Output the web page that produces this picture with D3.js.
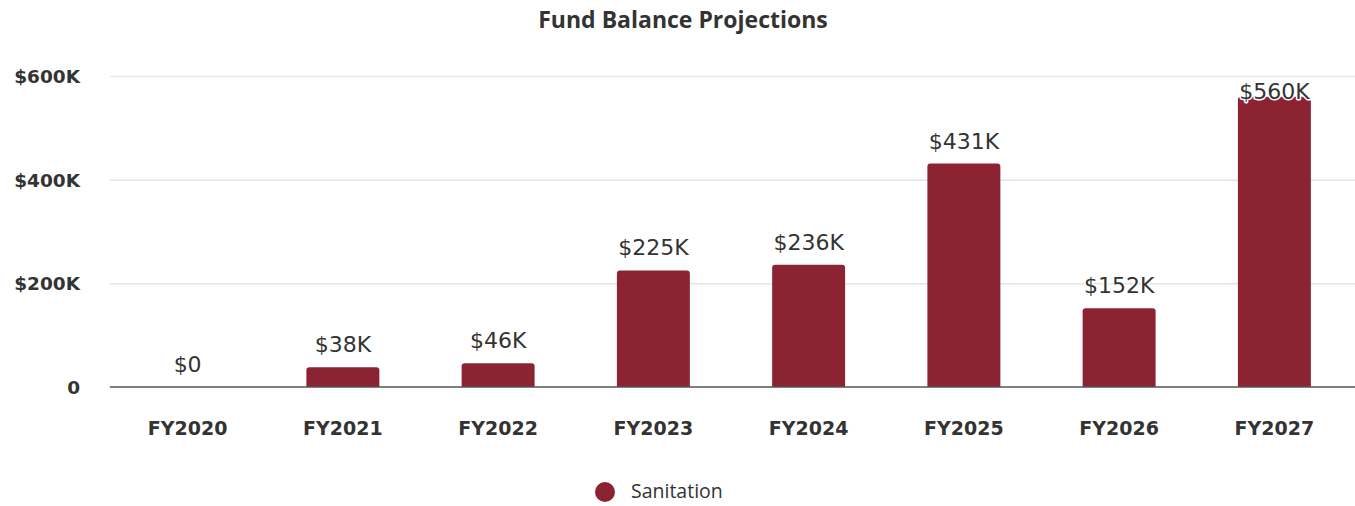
<!DOCTYPE html>
<html>
<head>
<meta charset="utf-8">
<script src="https://cdn.jsdelivr.net/npm/d3@7"></script>
<style>
  body { margin: 0; background: #fff; }
  svg { display: block; }
</style>
</head>
<body>
<svg id="chart" width="1355" height="506"></svg>
<script>
// Fund balance by fiscal year (thousands of dollars)
const categories = ["FY2020", "FY2021", "FY2022", "FY2023", "FY2024", "FY2025", "FY2026", "FY2027"];
const sanitation = [0, 38, 46, 225, 236, 431, 152, 560];
const yTicks = [0, 200, 400, 600];
const seriesName = "Sanitation";
const chartTitle = "Fund Balance Projections";

const W = 1355, H = 506;
const margin = { left: 110, right: 3, top: 76, bottom: 119 };
const svg = d3.select("#chart");
const color = "#8b2332";
const textColor = "#333333";
const axisFont = "'DejaVu Sans', sans-serif";
const titleFont = "'Open Sans', 'Noto Sans', sans-serif";

const x = d3.scaleBand()
  .domain(categories)
  .range([margin.left, W - margin.right])
  .paddingInner(0.53)
  .paddingOuter(0.265);

const y = d3.scaleLinear()
  .domain([0, 600])
  .range([H - margin.bottom, margin.top]);

const fmt = v => v === 0 ? "$0" : "$" + v + "K";

// Title
svg.append("text")
  .attr("x", 683).attr("y", 28)
  .attr("text-anchor", "middle")
  .attr("font-family", titleFont)
  .attr("font-weight", 700)
  .attr("font-size", 23)
  .attr("fill", textColor)
  .text(chartTitle);

// Gridlines and y labels
const yAxis = d3.axisLeft(y)
  .tickValues(yTicks)
  .tickSize(-(W - margin.left))
  .tickPadding(30)
  .tickFormat(v => v === 0 ? "0" : "$" + v + "K");

const gy = svg.append("g")
  .attr("transform", `translate(${margin.left},0)`)
  .call(yAxis);
gy.select(".domain").remove();
gy.selectAll(".tick line")
  .attr("stroke", d => d === 0 ? "none" : "#e6e6e6")
  .attr("stroke-width", 1.5);
gy.selectAll(".tick text")
  .attr("font-family", axisFont)
  .attr("font-weight", 700)
  .attr("font-size", 18.5)
  .attr("fill", textColor)
  .attr("dy", "0.35em");

// Bars with rounded top corners
const r = 3;
function barPath(d, i) {
  const x0 = x(categories[i]);
  const w = x.bandwidth();
  const y0 = y(0);
  const y1 = y(d);
  const h = y0 - y1;
  const rr = Math.min(r, h);
  return `M${x0},${y0} V${y1 + rr} Q${x0},${y1} ${x0 + rr},${y1} H${x0 + w - rr} Q${x0 + w},${y1} ${x0 + w},${y1 + rr} V${y0} Z`;
}
svg.append("g")
  .selectAll("path")
  .data(sanitation)
  .join("path")
  .attr("d", (d, i) => barPath(d, i))
  .attr("fill", color);

// X axis baseline and category labels
const xAxis = d3.axisBottom(x).tickSize(0).tickPadding(35);
const gx = svg.append("g")
  .attr("transform", `translate(0,${y(0)})`)
  .call(xAxis);
gx.select(".domain")
  .attr("d", `M${margin.left},0H${W}`)
  .attr("stroke", "#555")
  .attr("stroke-width", 1.5);
gx.selectAll(".tick text")
  .attr("font-family", axisFont)
  .attr("font-weight", 700)
  .attr("font-size", 19)
  .attr("fill", textColor);

// Value labels
svg.append("g")
  .selectAll("text")
  .data(sanitation)
  .join("text")
  .attr("x", (d, i) => x(categories[i]) + x.bandwidth() / 2)
  .attr("y", d => Math.max(y(d) - 15, margin.top + 23))
  .attr("text-anchor", "middle")
  .attr("font-family", axisFont)
  .attr("font-size", 22)
  .attr("fill", textColor)
  .attr("stroke", "#fff")
  .attr("stroke-width", 3)
  .attr("stroke-linejoin", "round")
  .attr("paint-order", "stroke")
  .text(fmt);

// Legend
const lg = svg.append("g");
lg.append("circle")
  .attr("cx", 605).attr("cy", 492).attr("r", 10)
  .attr("fill", color);
lg.append("text")
  .attr("x", 631).attr("y", 498)
  .attr("font-family", titleFont)
  .attr("font-size", 19.5)
  .attr("fill", textColor)
  .text(seriesName);
</script>
</body>
</html>
